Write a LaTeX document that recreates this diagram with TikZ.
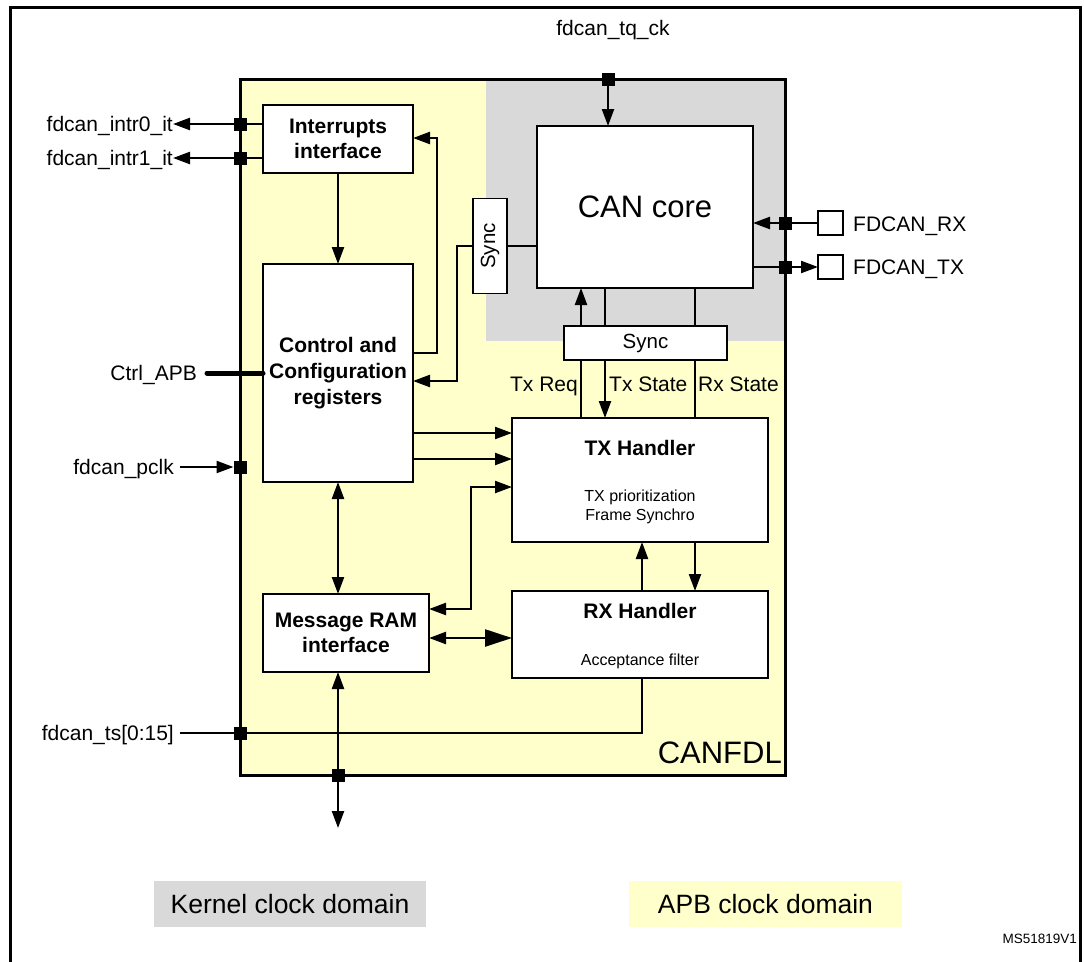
\documentclass[tikz,border=0pt]{standalone}
\usepackage{fontspec}
\setmainfont{Liberation Sans}
\usetikzlibrary{arrows.meta,calc}
\definecolor{apbY}{HTML}{FFFFCC}
\definecolor{kerG}{HTML}{D9D9D9}
\begin{document}
\begin{tikzpicture}[x=1pt,y=-1pt,
  conn/.style={line width=2.3pt},
  arr/.style={conn,-{Triangle[length=17pt,width=12pt]}},
  barr/.style={conn,{Triangle[length=17pt,width=12pt]}-{Triangle[length=17pt,width=12pt]}},
  blk/.style={draw,fill=white,line width=1.6pt,inner sep=0pt,outer sep=0pt,align=center},
  bfont/.style={font=\fontsize{21}{25}\selectfont\bfseries},
  sq/.style={fill=black,minimum size=13pt,inner sep=0pt,outer sep=0pt},
  sig/.style={font=\fontsize{21}{25}\selectfont,inner sep=0pt},
  smalltxt/.style={font=\fontsize{16}{19}\selectfont,inner sep=0pt},
  legend/.style={font=\fontsize{26.5}{30}\selectfont,inner sep=0pt,minimum height=46pt},
]
\useasboundingbox (0,0) rectangle (1084,961);

% outer frame
\draw[line width=3pt] (10,965) -- (10,7) -- (1080,7) -- (1080,965);

% CANFDL block with clock domains
\fill[apbY] (240,79) rectangle (785,775);
\fill[kerG] (486,79) rectangle (785,341);
\node[draw,line width=3pt,minimum width=545pt,minimum height=696pt,inner sep=0pt,outer sep=0pt,anchor=north west] (canfdl) at (240,79) {};

% blocks
\node[blk,bfont,minimum width=150pt,minimum height=68pt] (intr) at (338,139) {Interrupts\\interface};
\node[blk,font=\fontsize{21}{26}\selectfont\bfseries,minimum width=150pt,minimum height=218pt] (ctrl) at (338,373) {Control and\\Configuration\\registers};
\node[blk,bfont,minimum width=166pt,minimum height=78pt] (msg) at (346,633) {Message RAM\\interface};
\node[blk,font=\fontsize{31}{36}\selectfont,minimum width=216pt,minimum height=162pt] (cancore) at (645,207) {CAN core};
\node[blk,font=\fontsize{20.5}{24}\selectfont,minimum width=95pt,minimum height=34pt,rotate=90] (sync1) at (490,246) {Sync};
\node[blk,font=\fontsize{20.5}{24}\selectfont,minimum width=163pt,minimum height=34pt] (sync2) at (645.5,343) {Sync};
\node[blk,minimum width=256pt,minimum height=124pt] (tx) at (640,480) {};
\node[blk,minimum width=256pt,minimum height=87pt] (rx) at (640,634.5) {};
\node[blk,minimum width=25pt,minimum height=24pt] (pinRX) at (830.5,223) {};
\node[blk,minimum width=25pt,minimum height=24pt] (pinTX) at (830.5,267) {};

% texts in handlers
\node[bfont,inner sep=0pt,anchor=base] (txT) at (640,455) {TX Handler};
\node[smalltxt,anchor=base] (txS1) at (640,501) {TX prioritization};
\node[smalltxt,anchor=base] (txS2) at (640,520) {Frame Synchro};
\node[bfont,inner sep=0pt,anchor=base] (rxT) at (640,618) {RX Handler};
\node[smalltxt,anchor=base] (rxS) at (640,665) {Acceptance filter};

% labels
\node[sig,anchor=base] (lblTQ) at (613,35) {fdcan\_tq\_ck};
\node[sig,anchor=base east] (lblI0) at (173,131) {fdcan\_intr0\_it};
\node[sig,anchor=base east] (lblI1) at (173,165) {fdcan\_intr1\_it};
\node[sig,inner xsep=10pt,anchor=base east] (lblAPB) at (207,380) {Ctrl\_APB};
\node[sig,inner xsep=6pt,anchor=base east] (lblPclk) at (180,474) {fdcan\_pclk};
\node[sig,inner xsep=6pt,anchor=base east] (lblTS) at (180,740) {fdcan\_ts[0:15]};
\node[sig,anchor=base west] (lblRX) at (853,231) {FDCAN\_RX};
\node[sig,anchor=base west] (lblTX) at (853,274) {FDCAN\_TX};
\node[sig,anchor=base east] (lblTxReq) at (578,391) {Tx Req};
\node[sig,anchor=base west] (lblTxSt) at (609,391) {Tx State};
\node[sig,anchor=base west] (lblRxSt) at (698,391) {Rx State};
\node[font=\fontsize{31}{35}\selectfont,inner sep=0pt,anchor=base east] (lblCAN) at (782,763) {CANFDL};
\node[legend,fill=kerG,minimum width=272pt] (kern) at (290,904) {Kernel clock domain};
\node[legend,fill=apbY,minimum width=273pt] (apb) at (765.5,904) {APB clock domain};
\node[font=\fontsize{13.5}{15}\selectfont,inner sep=0pt,anchor=base east] (ms) at (1077,943) {MS51819V1};

% helper coordinates
\coordinate (fb1) at (437,353);
\coordinate (fb2) at (437,138);
\coordinate (sy1) at (457,246);
\coordinate (sy2) at (457,381);
\coordinate (xs1) at (581,343);
\coordinate (xs2) at (605,343);
\coordinate (xs3) at (695,343);
\coordinate (t1) at (512,433);
\coordinate (t2) at (512,459);
\coordinate (m1) at (471,609);
\coordinate (m2) at (471,487);
\coordinate (m3) at (471,638);
\coordinate (hx1) at (642,566);
\coordinate (hx2) at (695,566);
\coordinate (ts1) at (642,733);
\coordinate (busEnd) at (338,828);

% squares (pads)
\node[sq] (sqTQ) at (608,79) {};
\node[sq] (sqRX) at (785,223) {};
\node[sq] (sqTX) at (785,267) {};
\node[sq] (sqI0) at (240,124) {};
\node[sq] (sqI1) at (240,158) {};
\node[sq] (sqPclk) at (240,467) {};
\node[sq] (sqTS) at (240,733) {};
\node[sq] (sqBot) at (338,775) {};

% connectors
\draw[arr] (sqTQ) -- (cancore.north -| sqTQ);
\draw[arr] (pinRX.west) -- (cancore.east |- pinRX.west);
\draw[arr] (cancore.east |- pinTX.west) -- (pinTX.west);
\draw[line width=1.6pt] (intr.west |- sqI0) -- (sqI0);
\draw[arr] (sqI0) -- (lblI0.east |- sqI0);
\draw[line width=1.6pt] (intr.west |- sqI1) -- (sqI1);
\draw[arr] (sqI1) -- (lblI1.east |- sqI1);
\draw[arr] (intr) -- (ctrl);
\draw[arr] (ctrl.east |- fb1) -- (fb1) -- (fb2) -- (intr.east |- fb2);
\draw[conn] (cancore.west |- sy1) -- (sync1);
\draw[arr] (sync1) -- (sy1) -- (sy2) -- (ctrl.east |- sy2);
\draw[arr] (sync2.north -| xs1) -- (cancore.south -| xs1);
\draw[conn] (sync2.north -| xs2) -- (cancore.south -| xs2);
\draw[conn] (sync2.north -| xs3) -- (cancore.south -| xs3);
\draw[conn] (tx.north -| xs1) -- (sync2.south -| xs1);
\draw[arr] (sync2.south -| xs2) -- (tx.north -| xs2);
\draw[conn] (tx.north -| xs3) -- (sync2.south -| xs3);
\draw[arr] (ctrl.east |- t1) -- (t1);
\draw[arr] (ctrl.east |- t2) -- (t2);
\draw[barr] (msg.east |- m1) -- (m1) -- (m2) -- (tx.west |- m2);
\draw[conn,{Triangle[length=17pt,width=12pt]}-{Triangle[length=27pt,width=17pt]}] (msg.east |- m3) -- (rx.west |- m3);
\draw[barr] (ctrl.south) -- (msg.north -| ctrl.south);
\draw[barr] (msg.south -| busEnd) -- (busEnd);
\draw[arr] (rx.north -| hx1) -- (tx.south -| hx1);
\draw[arr] (tx.south -| hx2) -- (rx.north -| hx2);
\draw[conn] (lblTS.east |- sqTS) -- (sqTS) -- (ts1) -- (rx.south -| ts1);
\draw[arr] (lblPclk.east |- sqPclk) -- (sqPclk);
\draw[line width=5pt,line cap=round] (lblAPB.east |- ctrl.west) -- (ctrl.west);

% redraw pads on top
\fill (sqTQ.south west) rectangle (sqTQ.north east);
\fill (sqRX.south west) rectangle (sqRX.north east);
\fill (sqTX.south west) rectangle (sqTX.north east);
\fill (sqI0.south west) rectangle (sqI0.north east);
\fill (sqI1.south west) rectangle (sqI1.north east);
\fill (sqPclk.south west) rectangle (sqPclk.north east);
\fill (sqTS.south west) rectangle (sqTS.north east);
\fill (sqBot.south west) rectangle (sqBot.north east);
\end{tikzpicture}
\end{document}
